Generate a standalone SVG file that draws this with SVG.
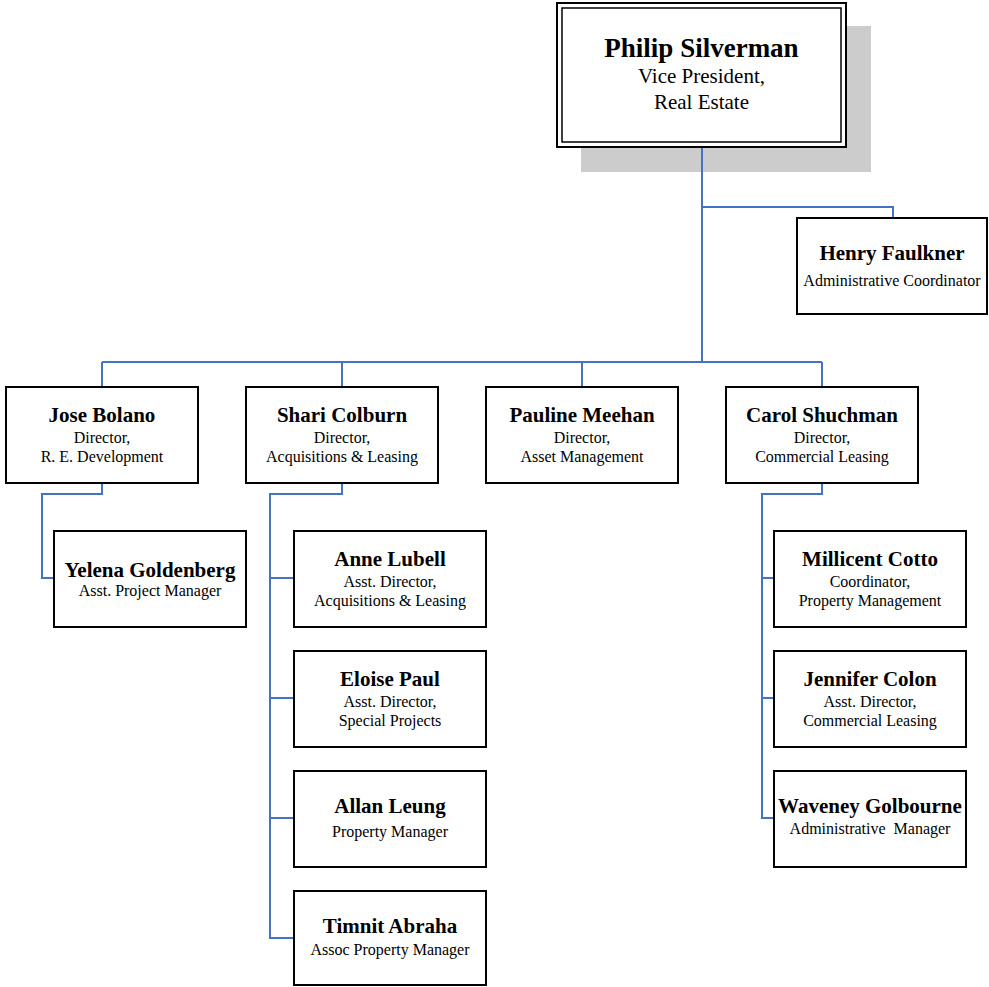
<svg xmlns="http://www.w3.org/2000/svg" width="989" height="987" viewBox="0 0 989 987">
<style>
  .box { fill: #ffffff; stroke: #000000; stroke-width: 2; }
  .conn { fill: none; stroke: #4472C4; stroke-width: 2; }
  text { font-family: "Liberation Serif", "Times New Roman", serif; text-anchor: middle; fill: #000000; }
  .name { font-size: 21px; font-weight: bold; }
  .sub { font-size: 16px; }
  .tname { font-size: 27px; font-weight: bold; }
  .tsub { font-size: 21px; }
</style>
<rect width="989" height="987" fill="#ffffff"/>
<g id="shadow-philip">
  <rect x="581" y="26" width="290" height="146" fill="#CCCCCC"/>
</g>
<g id="connectors">
  <path class="conn" d="M702,147 V362 M702,207 H893 V218 M102,362 H822 M102,362 V387 M342,362 V387 M582,362 V387 M822,362 V387"/>
  <path class="conn" d="M102,483 V494 H42 V578 H54"/>
  <path class="conn" d="M342,483 V494 H270 V938 H294 M270,578 H294 M270,698 H294 M270,818 H294"/>
  <path class="conn" d="M822,483 V494 H762 V818 H774 M762,578 H774 M762,698 H774"/>
</g>
<g id="node-philip">
  <rect x="557" y="3" width="289" height="144" class="box"/>
  <rect x="562" y="8" width="279" height="134" fill="none" stroke="#000" stroke-width="1.5"/>
  <text x="701.5" y="57" class="tname">Philip Silverman</text>
  <text x="701.5" y="83" class="tsub">Vice President,</text>
  <text x="701.5" y="109" class="tsub">Real Estate</text>
</g>
<g id="node-henry">
  <rect x="797" y="218" width="190" height="96" class="box"/>
  <text x="892" y="260" class="name">Henry Faulkner</text>
  <text x="892" y="286" class="sub">Administrative Coordinator</text>
</g>
<g id="node-jose">
  <rect x="6" y="387" width="192" height="96" class="box"/>
  <text x="102" y="422" class="name">Jose Bolano</text>
  <text x="102" y="443" class="sub">Director,</text>
  <text x="102" y="462" class="sub">R. E. Development</text>
</g>
<g id="node-shari">
  <rect x="246" y="387" width="192" height="96" class="box"/>
  <text x="342" y="422" class="name">Shari Colburn</text>
  <text x="342" y="443" class="sub">Director,</text>
  <text x="342" y="462" class="sub">Acquisitions &amp; Leasing</text>
</g>
<g id="node-pauline">
  <rect x="486" y="387" width="192" height="96" class="box"/>
  <text x="582" y="422" class="name">Pauline Meehan</text>
  <text x="582" y="443" class="sub">Director,</text>
  <text x="582" y="462" class="sub">Asset Management</text>
</g>
<g id="node-carol">
  <rect x="726" y="387" width="192" height="96" class="box"/>
  <text x="822" y="422" class="name">Carol Shuchman</text>
  <text x="822" y="443" class="sub">Director,</text>
  <text x="822" y="462" class="sub">Commercial Leasing</text>
</g>
<g id="node-yelena">
  <rect x="54" y="531" width="192" height="96" class="box"/>
  <text x="150" y="577" class="name">Yelena Goldenberg</text>
  <text x="150" y="596" class="sub">Asst. Project Manager</text>
</g>
<g id="node-anne">
  <rect x="294" y="531" width="192" height="96" class="box"/>
  <text x="390" y="566" class="name">Anne Lubell</text>
  <text x="390" y="587" class="sub">Asst. Director,</text>
  <text x="390" y="606" class="sub">Acquisitions &amp; Leasing</text>
</g>
<g id="node-eloise">
  <rect x="294" y="651" width="192" height="96" class="box"/>
  <text x="390" y="686" class="name">Eloise Paul</text>
  <text x="390" y="707" class="sub">Asst. Director,</text>
  <text x="390" y="726" class="sub">Special Projects</text>
</g>
<g id="node-allan">
  <rect x="294" y="771" width="192" height="96" class="box"/>
  <text x="390" y="813" class="name">Allan Leung</text>
  <text x="390" y="837" class="sub">Property Manager</text>
</g>
<g id="node-timnit">
  <rect x="294" y="891" width="192" height="94" class="box"/>
  <text x="390" y="933" class="name">Timnit Abraha</text>
  <text x="390" y="955" class="sub">Assoc Property Manager</text>
</g>
<g id="node-millicent">
  <rect x="774" y="531" width="192" height="96" class="box"/>
  <text x="870" y="566" class="name">Millicent Cotto</text>
  <text x="870" y="587" class="sub">Coordinator,</text>
  <text x="870" y="606" class="sub">Property Management</text>
</g>
<g id="node-jennifer">
  <rect x="774" y="651" width="192" height="96" class="box"/>
  <text x="870" y="686" class="name">Jennifer Colon</text>
  <text x="870" y="707" class="sub">Asst. Director,</text>
  <text x="870" y="726" class="sub">Commercial Leasing</text>
</g>
<g id="node-waveney">
  <rect x="774" y="771" width="192" height="96" class="box"/>
  <text x="870" y="813" class="name">Waveney Golbourne</text>
  <text x="870" y="834" class="sub" xml:space="preserve">Administrative  Manager</text>
</g>
</svg>
